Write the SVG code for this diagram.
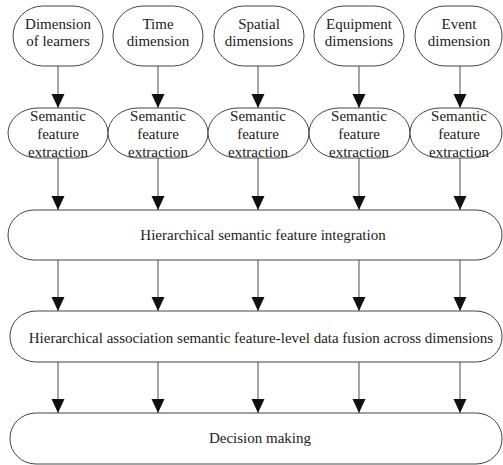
<svg xmlns="http://www.w3.org/2000/svg" width="503" height="465" viewBox="0 0 503 465">
<style>
.n{fill:#fff;stroke:#444;stroke-width:1}
.t{font-family:"Liberation Serif","Times New Roman",serif;font-size:15px;fill:#222;text-anchor:middle}
.c line{stroke:#888;stroke-width:1.5;marker-end:url(#ah)}
</style>
<defs>
<marker id="ah" markerUnits="userSpaceOnUse" markerWidth="15" markerHeight="14" refX="14" refY="7" orient="auto" viewBox="0 0 15 14">
<path d="M0,0.5 L14,7 L0,13.5 Z" fill="#111"/>
</marker>
</defs>
<rect width="503" height="465" fill="#fff"/>
<g class="c" id="connectors">
<line x1="58" y1="66" x2="58" y2="108"/>
<line x1="158" y1="66" x2="158" y2="108"/>
<line x1="258" y1="66" x2="258" y2="108"/>
<line x1="359" y1="66" x2="359" y2="108"/>
<line x1="460" y1="66" x2="460" y2="108"/>
<line x1="58" y1="158" x2="58" y2="210"/>
<line x1="158" y1="158" x2="158" y2="210"/>
<line x1="258" y1="158" x2="258" y2="210"/>
<line x1="359" y1="158" x2="359" y2="210"/>
<line x1="460" y1="158" x2="460" y2="210"/>
<line x1="58" y1="260" x2="58" y2="311"/>
<line x1="158" y1="260" x2="158" y2="311"/>
<line x1="258" y1="260" x2="258" y2="311"/>
<line x1="359" y1="260" x2="359" y2="311"/>
<line x1="460" y1="260" x2="460" y2="311"/>
<line x1="58" y1="362" x2="58" y2="413"/>
<line x1="158" y1="362" x2="158" y2="413"/>
<line x1="258" y1="362" x2="258" y2="413"/>
<line x1="359" y1="362" x2="359" y2="413"/>
<line x1="460" y1="362" x2="460" y2="413"/>
</g>
<g id="dim-learners"><rect class="n" x="13" y="6" width="90" height="60" rx="30" ry="30"/><text class="t" x="58" y="29">Dimension</text><text class="t" x="58" y="46">of learners</text></g>
<g id="dim-time"><rect class="n" x="113" y="6" width="90" height="60" rx="30" ry="30"/><text class="t" x="158" y="29">Time</text><text class="t" x="158" y="46">dimension</text></g>
<g id="dim-spatial"><rect class="n" x="214" y="6" width="90" height="60" rx="30" ry="30"/><text class="t" x="259" y="29">Spatial</text><text class="t" x="259" y="46">dimensions</text></g>
<g id="dim-equipment"><rect class="n" x="314" y="6" width="90" height="60" rx="30" ry="30"/><text class="t" x="359" y="29">Equipment</text><text class="t" x="359" y="46">dimensions</text></g>
<g id="dim-event"><rect class="n" x="415" y="6" width="87" height="60" rx="30" ry="30"/><text class="t" x="459" y="29">Event</text><text class="t" x="459" y="46">dimension</text></g>
<g id="sfe1"><rect class="n" x="8" y="108" width="100" height="50" rx="30" ry="25"/><text class="t" x="58" y="121">Semantic</text><text class="t" x="58" y="139">feature</text><text class="t" x="58" y="157">extraction</text></g>
<g id="sfe2"><rect class="n" x="108" y="108" width="100" height="50" rx="30" ry="25"/><text class="t" x="158" y="121">Semantic</text><text class="t" x="158" y="139">feature</text><text class="t" x="158" y="157">extraction</text></g>
<g id="sfe3"><rect class="n" x="208" y="108" width="101" height="50" rx="30" ry="25"/><text class="t" x="258" y="121">Semantic</text><text class="t" x="258" y="139">feature</text><text class="t" x="258" y="157">extraction</text></g>
<g id="sfe4"><rect class="n" x="309" y="108" width="101" height="50" rx="30" ry="25"/><text class="t" x="359" y="121">Semantic</text><text class="t" x="359" y="139">feature</text><text class="t" x="359" y="157">extraction</text></g>
<g id="sfe5"><rect class="n" x="410" y="108" width="92" height="50" rx="30" ry="25"/><text class="t" x="459" y="121">Semantic</text><text class="t" x="459" y="139">feature</text><text class="t" x="459" y="157">extraction</text></g>
<g id="integration"><rect class="n" x="8" y="210" width="494" height="50" rx="26" ry="25"/><text class="t" x="263" y="240">Hierarchical semantic feature integration</text></g>
<g id="fusion"><rect class="n" x="10" y="311" width="492" height="51" rx="26" ry="25"/><text class="t" x="261" y="343">Hierarchical association semantic feature-level data fusion across dimensions</text></g>
<g id="decision"><rect class="n" x="10" y="413" width="492" height="51" rx="26" ry="25"/><text class="t" x="260" y="443">Decision making</text></g>
</svg>
